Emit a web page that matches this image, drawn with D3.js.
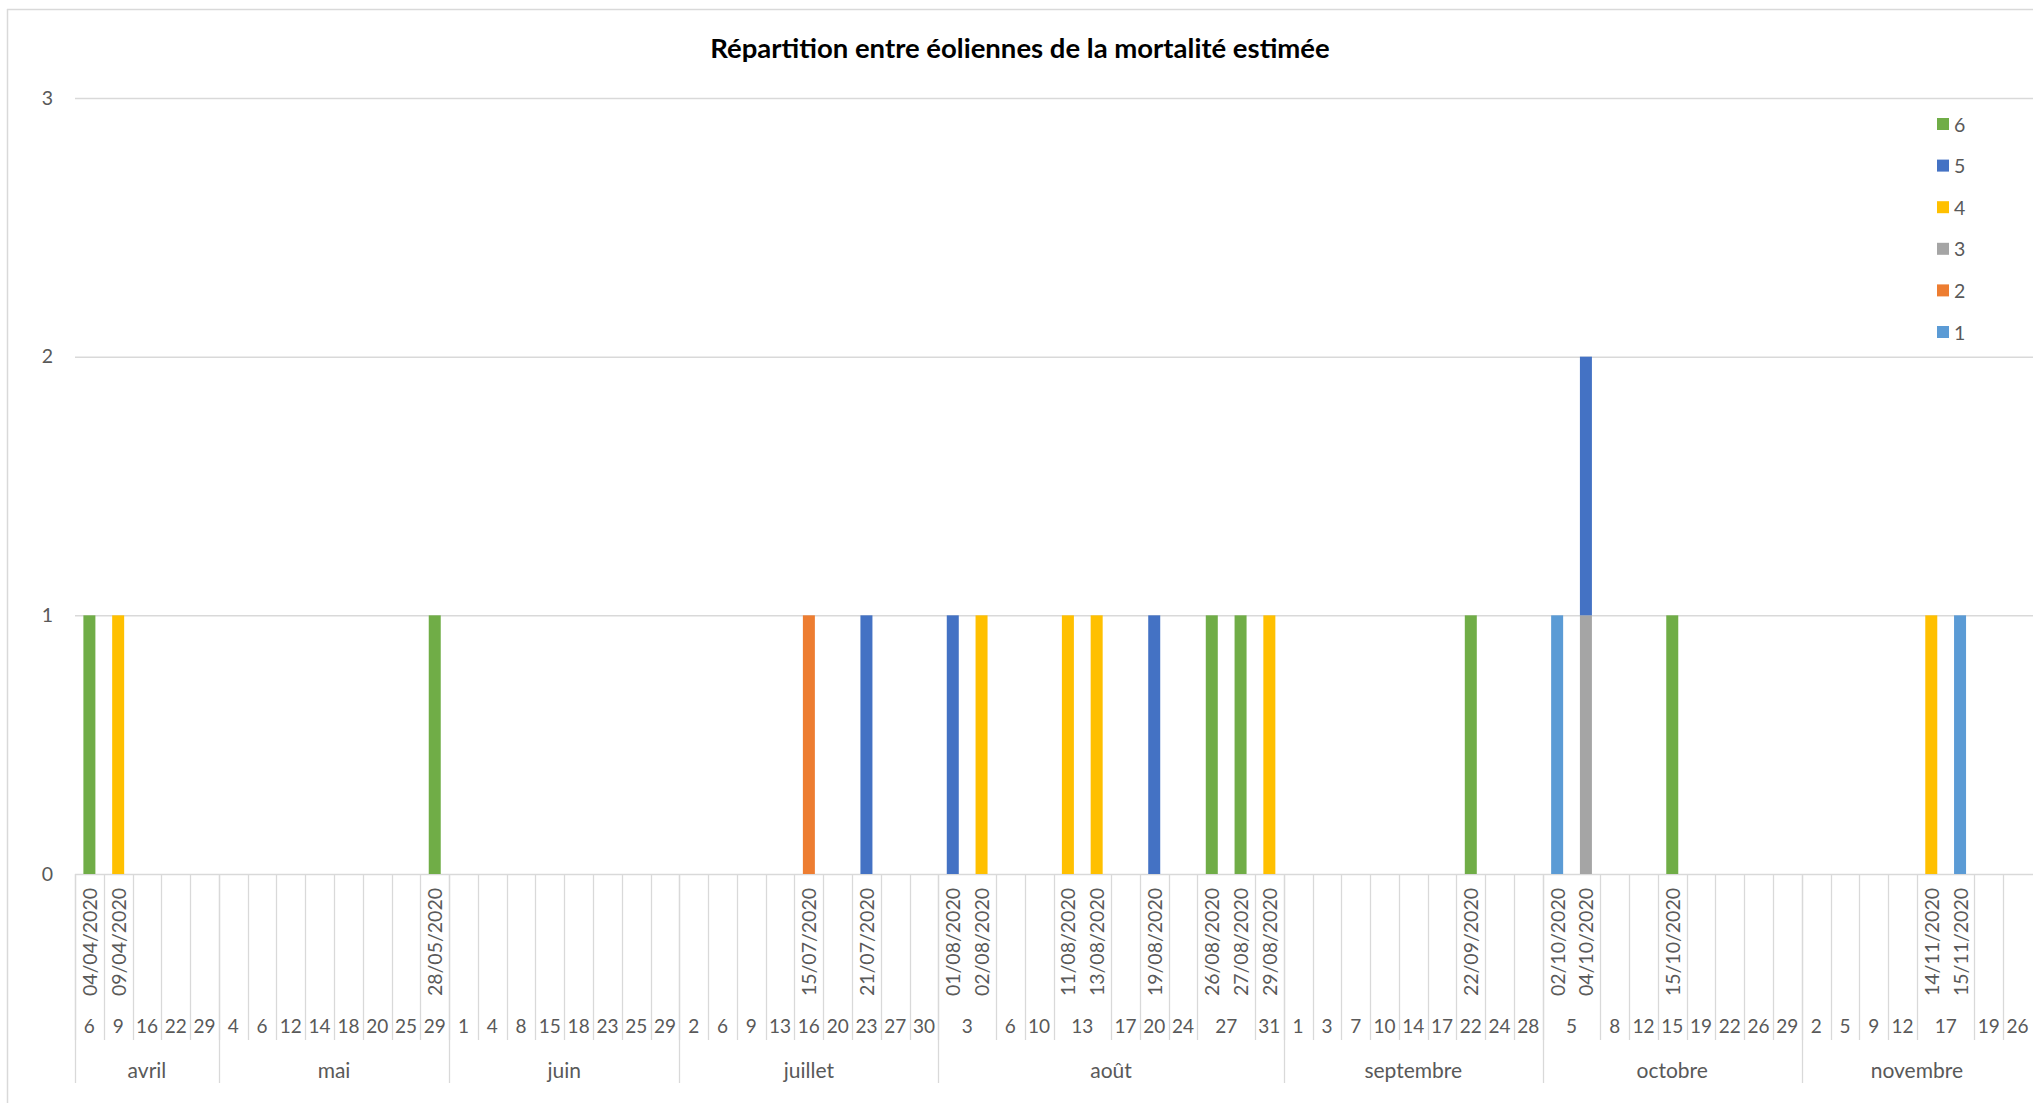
<!DOCTYPE html>
<html>
<head>
<meta charset="utf-8">
<script src="https://cdn.jsdelivr.net/npm/d3@7"></script>
<style>
  html, body { margin: 0; padding: 0; background: #ffffff; }
  svg { display: block; }
  text { font-family: Lato, "Open Sans", sans-serif; }
</style>
</head>
<body>
<svg id="chart" width="2033" height="1103"></svg>
<script>
// ---------------- DATA ----------------
const chartTitle = "Répartition entre éoliennes de la mortalité estimée";
const seriesKeys = ["1", "2", "3", "4", "5", "6"];
const yTicks = [0, 1, 2, 3];

// leaf categories (one per column slot): month, day, date
const leafMonth = [
  "avril","avril","avril","avril","avril",
  "mai","mai","mai","mai","mai","mai","mai","mai",
  "juin","juin","juin","juin","juin","juin","juin","juin",
  "juillet","juillet","juillet","juillet","juillet","juillet","juillet","juillet","juillet",
  "août","août","août","août","août","août","août","août","août","août","août","août",
  "septembre","septembre","septembre","septembre","septembre","septembre","septembre","septembre","septembre",
  "octobre","octobre","octobre","octobre","octobre","octobre","octobre","octobre","octobre",
  "novembre","novembre","novembre","novembre","novembre","novembre","novembre","novembre"
];
const leafDay = [
  "6","9","16","22","29",
  "4","6","12","14","18","20","25","29",
  "1","4","8","15","18","23","25","29",
  "2","6","9","13","16","20","23","27","30",
  "3","3","6","10","13","13","17","20","24","27","27","31",
  "1","3","7","10","14","17","22","24","28",
  "5","5","8","12","15","19","22","26","29",
  "2","5","9","12","17","17","19","26"
];
const leafDate = [
  "04/04/2020","09/04/2020","","","",
  "","","","","","","","28/05/2020",
  "","","","","","","","",
  "","","","","15/07/2020","","21/07/2020","","",
  "01/08/2020","02/08/2020","","","11/08/2020","13/08/2020","","19/08/2020","","26/08/2020","27/08/2020","29/08/2020",
  "","","","","","","22/09/2020","","",
  "02/10/2020","04/10/2020","","","15/10/2020","","","","",
  "","","","","14/11/2020","15/11/2020","",""
];

// observed dates and the estimated mortality per wind turbine (series 1..6)
const obsDates = ["04/04/2020","09/04/2020","28/05/2020","15/07/2020","21/07/2020","01/08/2020","02/08/2020",
  "11/08/2020","13/08/2020","19/08/2020","26/08/2020","27/08/2020","29/08/2020","22/09/2020",
  "02/10/2020","04/10/2020","15/10/2020","14/11/2020","15/11/2020"];
const eol1 = [0,0,0,0,0,0,0,0,0,0,0,0,0,0,1,0,0,0,1];
const eol2 = [0,0,0,1,0,0,0,0,0,0,0,0,0,0,0,0,0,0,0];
const eol3 = [0,0,0,0,0,0,0,0,0,0,0,0,0,0,0,1,0,0,0];
const eol4 = [0,1,0,0,0,0,1,1,1,0,0,0,1,0,0,0,0,1,0];
const eol5 = [0,0,0,0,1,1,0,0,0,1,0,0,0,0,0,1,0,0,0];
const eol6 = [1,0,1,0,0,0,0,0,0,0,1,1,0,1,0,0,1,0,0];

const colors = { "1": "#5B9BD5", "2": "#ED7D31", "3": "#A5A5A5", "4": "#FFC000", "5": "#4472C4", "6": "#70AD47" };

// ---------------- BUILD ROWS ----------------
const seriesVals = { "1": eol1, "2": eol2, "3": eol3, "4": eol4, "5": eol5, "6": eol6 };
const rows = leafDay.map((d, i) => {
  const r = { id: String(i), month: leafMonth[i], day: d, date: leafDate[i] };
  const k = obsDates.indexOf(leafDate[i]);
  seriesKeys.forEach(s => { r[s] = k >= 0 ? seriesVals[s][k] : 0; });
  return r;
});

// ---------------- LAYOUT ----------------
const svg = d3.select("#chart");
const plotLeft = 75, plotRight = 2032, plotTop = 98, plotBottom = 874;
const gridColor = "#d9d9d9", textColor = "#595959";

const x = d3.scaleBand().domain(rows.map(r => r.id)).range([plotLeft, plotRight])
  .paddingInner(0.583).paddingOuter(0.2915);
const y = d3.scaleLinear().domain([0, 3]).range([plotBottom, plotTop]);

// outer frame (partially visible)
svg.append("line").attr("x1", 7).attr("x2", 2033).attr("y1", 9.5).attr("y2", 9.5)
  .attr("stroke", gridColor).attr("stroke-width", 1.5);
svg.append("line").attr("x1", 7.5).attr("x2", 7.5).attr("y1", 9).attr("y2", 1103)
  .attr("stroke", gridColor).attr("stroke-width", 1.5);

// title
svg.append("text").attr("x", 1020).attr("y", 47).attr("text-anchor", "middle")
  .attr("dominant-baseline", "central").attr("font-weight", "bold")
  .attr("font-size", 27.5).attr("fill", "#000").text(chartTitle);

// y axis + gridlines
const yAxis = d3.axisLeft(y).tickValues(yTicks).tickFormat(d3.format("d"))
  .tickSize(-(2033 - plotLeft)).tickPadding(22);
const gy = svg.append("g").attr("transform", `translate(${plotLeft},0)`).call(yAxis);
gy.select(".domain").remove();
gy.selectAll(".tick line").attr("stroke", gridColor).attr("stroke-width", 1.5);
gy.selectAll(".tick text").attr("fill", textColor).attr("font-size", 19.5)
  .attr("font-family", "Lato, 'Open Sans', sans-serif");

// stacked bars
const stacked = d3.stack().keys(seriesKeys)(rows);
svg.append("g").selectAll("g").data(stacked).join("g")
  .attr("fill", d => colors[d.key])
  .selectAll("rect").data(d => d.filter(p => p[1] - p[0] > 0)).join("rect")
  .attr("x", d => x(d.data.id))
  .attr("width", x.bandwidth())
  .attr("y", d => y(d[1]))
  .attr("height", d => y(d[0]) - y(d[1]));

// ---------------- MULTI-LEVEL CATEGORY AXIS ----------------
const step = x.step();
const slotLeft = id => x(id) - x.paddingInner() * step / 2;
const ax = svg.append("g");

// day groups (consecutive leaves with same month+day)
const dayGroups = [];
rows.forEach((r, i) => {
  const last = dayGroups[dayGroups.length - 1];
  if (last && last.month === r.month && last.day === r.day) last.ids.push(r.id);
  else dayGroups.push({ month: r.month, day: r.day, ids: [r.id] });
});
const monthGroups = [];
rows.forEach(r => {
  const last = monthGroups[monthGroups.length - 1];
  if (last && last.month === r.month) last.ids.push(r.id);
  else monthGroups.push({ month: r.month, ids: [r.id] });
});

const dayBottom = 1040, monthBottom = 1083;
// day separators
dayGroups.forEach(g => {
  const xl = Math.round(slotLeft(g.ids[0])) + 0.5;
  ax.append("line").attr("x1", xl).attr("x2", xl).attr("y1", plotBottom).attr("y2", dayBottom)
    .attr("stroke", gridColor).attr("stroke-width", 1.3);
  const xc = slotLeft(g.ids[0]) + step * g.ids.length / 2;
  ax.append("text").attr("x", xc).attr("y", 1025).attr("text-anchor", "middle")
    .attr("dominant-baseline", "central").attr("font-size", 19).attr("fill", textColor).text(g.day);
});
// month separators
monthGroups.forEach(g => {
  const xl = Math.round(slotLeft(g.ids[0])) + 0.5;
  ax.append("line").attr("x1", xl).attr("x2", xl).attr("y1", plotBottom).attr("y2", monthBottom)
    .attr("stroke", gridColor).attr("stroke-width", 1.3);
  const xc = slotLeft(g.ids[0]) + step * g.ids.length / 2;
  ax.append("text").attr("x", xc).attr("y", 1069).attr("text-anchor", "middle")
    .attr("dominant-baseline", "central").attr("font-size", 21).attr("fill", textColor).text(g.month);
});
// rotated date labels
rows.filter(r => r.date).forEach(r => {
  const xc = x(r.id) + x.bandwidth() / 2;
  ax.append("text").attr("transform", `translate(${xc},888) rotate(-90)`)
    .attr("text-anchor", "end").attr("dominant-baseline", "central")
    .attr("font-size", 19.5).attr("fill", textColor).text(r.date);
});

// legend
const legendKeys = seriesKeys.slice().reverse();
const lg = svg.append("g");
legendKeys.forEach((k, i) => {
  const cy = 124 + i * 41.6;
  lg.append("rect").attr("x", 1937).attr("y", cy - 6).attr("width", 12).attr("height", 12).attr("fill", colors[k]);
  lg.append("text").attr("x", 1954).attr("y", cy).attr("dominant-baseline", "central")
    .attr("font-size", 19.5).attr("fill", textColor).text(k);
});
</script>
</body>
</html>
